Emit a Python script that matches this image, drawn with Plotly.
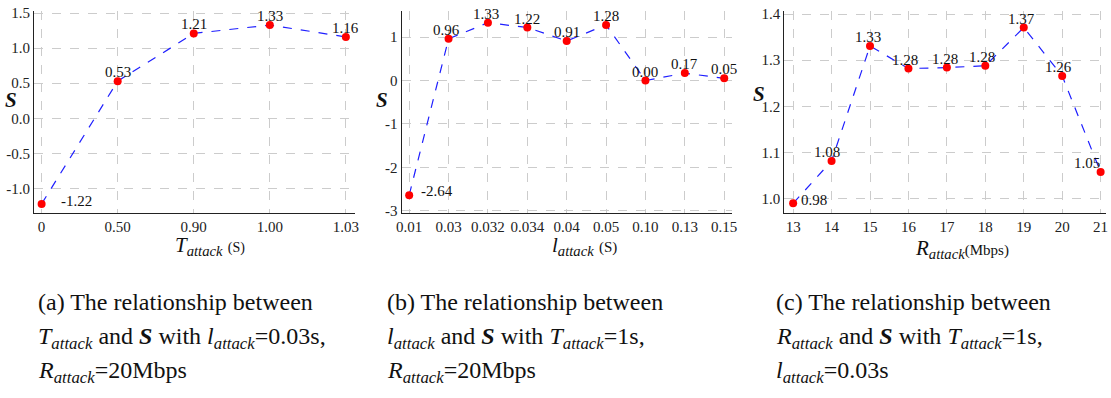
import plotly.graph_objects as go

# ---- data ----
a_cats = ["0", "0.50", "0.90", "1.00", "1.03"]
a_vals = [-1.22, 0.53, 1.21, 1.33, 1.16]
a_labels = ["-1.22", "0.53", "1.21", "1.33", "1.16"]

b_cats = ["0.01", "0.03", "0.032", "0.034", "0.04", "0.05", "0.10", "0.13", "0.15"]
b_vals = [-2.64, 0.96, 1.33, 1.22, 0.91, 1.28, 0.00, 0.17, 0.05]
b_labels = ["-2.64", "0.96", "1.33", "1.22", "0.91", "1.28", "0.00", "0.17", "0.05"]

c_cats = ["13", "14", "15", "16", "17", "18", "19", "20", "21"]
c_vals = [0.989, 1.081, 1.331, 1.282, 1.284, 1.288, 1.371, 1.266, 1.057]
c_labels = ["0.98", "1.08", "1.33", "1.28", "1.28", "1.28", "1.37", "1.26", "1.05"]

a_yticks = [-1.0, -0.5, 0.0, 0.5, 1.0, 1.5]
a_yticktext = ["-1.0", "-0.5", "0.0", "0.5", "1.0", "1.5"]
b_yticks = [-3, -2, -1, 0, 1]
b_yticktext = ["-3", "-2", "-1", "0", "1"]
c_yticks = [1.0, 1.1, 1.2, 1.3, 1.4]
c_yticktext = ["1.0", "1.1", "1.2", "1.3", "1.4"]

W, H = 1111, 398
FONT = "Liberation Serif"

def px(x):
    return x / W

def py(y):
    return 1 - y / H

fig = go.Figure()

panels = [
    dict(cats=a_cats, vals=a_vals, labels=a_labels, xr=[34, 355], yr=[-1.35, 1.53],
         yt=a_yticks, ytt=a_yticktext, xrange=[-0.1, 4.12],
         first_shift=(17, 3), lab_dx=[0, 0, 0, 0, 0]),
    dict(cats=b_cats, vals=b_vals, labels=b_labels, xr=[401.7, 731.7], yr=[-3.05, 1.6],
         yt=b_yticks, ytt=b_yticktext, xrange=[-0.19, 8.19],
         first_shift=(10, 4), lab_dx=[0, -2, -2, 0, 0, 0, 0, 0, 0]),
    dict(cats=c_cats, vals=c_vals, labels=c_labels, xr=[784.3, 1106], yr=[0.968, 1.407],
         yt=c_yticks, ytt=c_yticktext, xrange=[-0.23, 8.14],
         first_shift=(6, 3), lab_dx=[0, -5, -2, -3, -2, -3, -2, -4, -14]),
]

annotations = []

for i, p in enumerate(panels):
    n = i + 1
    xa = "x" if n == 1 else f"x{n}"
    ya = "y" if n == 1 else f"y{n}"
    xs = list(range(len(p["cats"])))
    fig.add_trace(go.Scatter(
        x=xs, y=p["vals"], mode="lines+markers",
        line=dict(color="#1f1fff", width=1.2, dash="dash"),
        marker=dict(color="#ff0000", size=8),
        xaxis=xa, yaxis=ya, showlegend=False, cliponaxis=False,
    ))
    # value labels
    for j, (xv, yv, lab) in enumerate(zip(xs, p["vals"], p["labels"])):
        if j == 0:
            annotations.append(dict(x=xv, y=yv, xref=xa, yref=ya, text=lab,
                                    showarrow=False, xanchor="left", yanchor="middle",
                                    xshift=p["first_shift"][0], yshift=p["first_shift"][1],
                                    font=dict(family=FONT, size=15, color="#111")))
        else:
            annotations.append(dict(x=xv, y=yv, xref=xa, yref=ya, text=lab,
                                    showarrow=False, xanchor="center", yanchor="middle",
                                    xshift=p["lab_dx"][j], yshift=9,
                                    font=dict(family=FONT, size=15, color="#111")))
    axcommon = dict(showline=True, linecolor="#222", linewidth=1.2,
                    gridcolor="#cccccc", griddash="dash", gridwidth=1,
                    tickfont=dict(family=FONT, size=15, color="#222"),
                    zeroline=False, ticks="", automargin=False)
    xkey = "xaxis" if n == 1 else f"xaxis{n}"
    ykey = "yaxis" if n == 1 else f"yaxis{n}"
    fig.update_layout(**{
        xkey: dict(domain=[px(p["xr"][0]), px(p["xr"][1])], anchor=ya,
                   range=p["xrange"], tickvals=xs,
                   ticktext=p["cats"], **axcommon),
        ykey: dict(domain=[py(213), py(11)], anchor=xa, range=p["yr"],
                   tickvals=p["yt"], ticktext=p["ytt"], **axcommon),
    })

# y-axis titles
for x, y in [(11, 100), (382, 100), (759, 94)]:
    annotations.append(dict(x=px(x), y=py(y), xref="paper", yref="paper",
                            xanchor="center", yanchor="middle",
                            text="<b><i>S</i></b>", showarrow=False,
                            font=dict(family=FONT, size=21, color="#111")))
# x-axis titles
xtitles = [
    (210, 246, "<i>T</i><sub><i>attack</i></sub> <span style='font-size:14px'>(S)</span>"),
    (584, 246, "<i>l</i><sub><i>attack</i></sub> <span style='font-size:15px'>(S)</span>"),
    (962, 249, "<i>R</i><sub><i>attack</i></sub><span style='font-size:15px'>(Mbps)</span>"),
]
for x, y, t in xtitles:
    annotations.append(dict(x=px(x), y=py(y), xref="paper", yref="paper",
                            xanchor="center", yanchor="middle",
                            text=t, showarrow=False,
                            font=dict(family=FONT, size=21, color="#111")))

captions = [
    (36, ["(a) The relationship between",
          "<i>T</i><sub><i>attack</i></sub> and <b><i>S</i></b> with <i>l</i><sub><i>attack</i></sub>=0.03s,",
          "<i>R</i><sub><i>attack</i></sub>=20Mbps"]),
    (385, ["(b) The relationship between",
           "<i>l</i><sub><i>attack</i></sub> and <b><i>S</i></b> with <i>T</i><sub><i>attack</i></sub>=1s,",
           "<i>R</i><sub><i>attack</i></sub>=20Mbps"]),
    (774, ["(c) The relationship between",
           "<i>R</i><sub><i>attack</i></sub> and <b><i>S</i></b> with <i>T</i><sub><i>attack</i></sub>=1s,",
           "<i>l</i><sub><i>attack</i></sub>=0.03s"]),
]
for x, lines in captions:
    for yc, t in zip([302, 338, 372], lines):
        annotations.append(dict(x=px(x), y=py(yc), xref="paper", yref="paper",
                                xanchor="left", yanchor="middle",
                                text=t, showarrow=False,
                                font=dict(family=FONT, size=24, color="#111")))

fig.update_layout(width=W, height=H, margin=dict(l=0, r=0, t=0, b=0),
                  paper_bgcolor="white", plot_bgcolor="white",
                  annotations=annotations)

fig.write_html("out.html")
